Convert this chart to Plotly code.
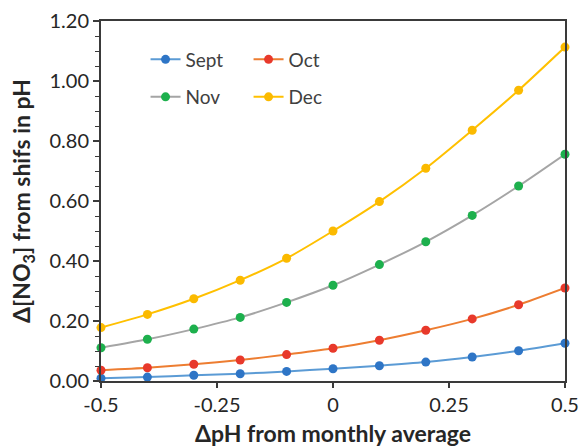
import plotly.graph_objects as go

ph_shift = [-0.5, -0.4, -0.3, -0.2, -0.1, 0.0, 0.1, 0.2, 0.3, 0.4, 0.5]
sept = [0.009, 0.013, 0.019, 0.024, 0.032, 0.041, 0.051, 0.063, 0.080, 0.101, 0.126]
oct_ = [0.036, 0.044, 0.056, 0.070, 0.088, 0.109, 0.136, 0.169, 0.207, 0.254, 0.310]
nov = [0.111, 0.139, 0.173, 0.212, 0.262, 0.319, 0.388, 0.464, 0.552, 0.650, 0.756]
dec = [0.178, 0.222, 0.274, 0.336, 0.409, 0.500, 0.598, 0.709, 0.836, 0.969, 1.113]

series_names = ["Sept", "Oct", "Nov", "Dec"]
series_values = [sept, oct_, nov, dec]
line_colors = ["#5B9BD5", "#ED7D31", "#A5A5A5", "#FFC000"]
marker_colors = ["#2E75C6", "#E8392B", "#1DB04D", "#FBBA00"]
legend_ids = ["legend", "legend2", "legend3", "legend4"]

x_tickvals = [-0.5, -0.25, 0, 0.25, 0.5]
x_ticktext = ["-0.5", "-0.25", "0", "0.25", "0.5"]
y_tickvals = [0, 0.2, 0.4, 0.6, 0.8, 1.0, 1.2]

FONT = "Lato"

fig = go.Figure()
for name, vals, lc, mc, lg in zip(series_names, series_values, line_colors, marker_colors, legend_ids):
    fig.add_trace(go.Scatter(
        x=ph_shift, y=vals, name=name, mode="lines+markers",
        line=dict(color=lc, width=2, shape="spline", smoothing=0.6),
        marker=dict(color=mc, size=9),
        cliponaxis=False, legend=lg, showlegend=True,
    ))

leg_common = dict(font=dict(family=FONT, size=19, color="#404040"),
                  bgcolor="rgba(0,0,0,0)", borderwidth=0,
                  xanchor="left", yanchor="middle", itemwidth=30)
row1, row2 = 0.893, 0.789
col1, col2 = 0.096, 0.318
fig.update_layout(
    width=580, height=447,
    margin=dict(l=101, r=15, t=21, b=66),
    paper_bgcolor="white", plot_bgcolor="white",
    showlegend=True,
    font=dict(family=FONT, size=19, color="#262626"),
    legend=dict(x=col1, y=row1, **leg_common),
    legend2=dict(x=col2, y=row1, **leg_common),
    legend3=dict(x=col1, y=row2, **leg_common),
    legend4=dict(x=col2, y=row2, **leg_common),
    xaxis=dict(
        range=[-0.5, 0.5], tickvals=x_tickvals, ticktext=x_ticktext,
        automargin=False,
        showgrid=False, zeroline=False, showline=True, linecolor="#3a3a3a",
        linewidth=2, mirror=True, ticks="outside", ticklen=5, tickwidth=1.5,
        tickcolor="#3a3a3a", tickfont=dict(family=FONT, size=20, color="#262626"),
        title=dict(text="<b>ΔpH from monthly average</b>", standoff=12,
                   font=dict(family=FONT, size=23, color="#262626")),
    ),
    yaxis=dict(
        range=[0, 1.2], tickvals=y_tickvals, tickformat=".2f",
        automargin=False,
        showgrid=False, zeroline=False, showline=True, linecolor="#3a3a3a",
        linewidth=2, mirror=True, ticks="outside", ticklen=6, tickwidth=1.5,
        tickcolor="#3a3a3a", tickfont=dict(family=FONT, size=20, color="#262626"),
        minor=dict(ticks="outside", ticklen=4, tickwidth=1.2, tickcolor="#3a3a3a",
                   dtick=0.05, showgrid=False),
        title=dict(text="<b>Δ[NO<sub>3</sub>] from shifs in pH</b>", standoff=12,
                   font=dict(family=FONT, size=23, color="#262626")),
    ),
)

fig.write_html("out.html", config={"displayModeBar": False},
               post_script="document.body.style.margin='0px';")
